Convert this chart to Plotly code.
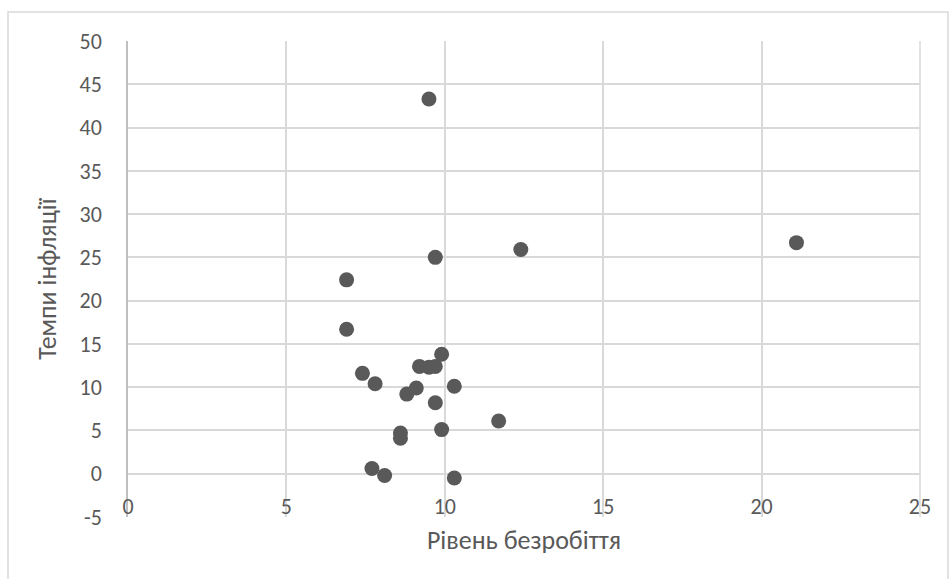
import plotly.graph_objects as go

# Unemployment rate (%) vs inflation rate (%)
unemployment = [9.5, 9.7, 12.4, 21.1, 6.9, 6.9, 9.9, 9.2, 9.5, 9.7, 7.4, 7.8,
                9.1, 8.8, 10.3, 9.7, 11.7, 9.9, 8.6, 8.6, 7.7, 8.1, 10.3]
inflation = [43.3, 25.0, 25.9, 26.7, 22.4, 16.7, 13.8, 12.4, 12.3, 12.4, 11.6, 10.4,
             9.9, 9.2, 10.1, 8.2, 6.1, 5.1, 4.7, 4.1, 0.6, -0.2, -0.5]

x_ticks = [0, 5, 10, 15, 20, 25]
y_ticks = [-5, 0, 5, 10, 15, 20, 25, 30, 35, 40, 45, 50]

x_title = "Рівень безробіття"
y_title = "Темпи інфляції"

FONT = "Calibri, Carlito, Lato, sans-serif"
TEXT = "#595959"
GRID = "#d9d9d9"

y_min, y_max = -5, 50
# x axis crosses the value axis at y = 0
cross = (0 - y_min) / (y_max - y_min)

fig = go.Figure(
    go.Scatter(
        x=unemployment,
        y=inflation,
        mode="markers",
        marker=dict(size=15, color="#595959", line=dict(width=0)),
        hoverinfo="x+y",
    )
)

fig.update_layout(
    width=949,
    height=579,
    margin=dict(l=128, r=29, t=41, b=62),
    paper_bgcolor="white",
    plot_bgcolor="white",
    showlegend=False,
    font=dict(family=FONT, color=TEXT, size=22),
    xaxis=dict(
        range=[0, 25],
        tickvals=x_ticks,
        ticktext=[str(v) for v in x_ticks],
        showgrid=True,
        gridcolor=GRID,
        gridwidth=1.5,
        zeroline=False,
        showline=False,
        anchor="free",
        position=cross,
        ticks="",
        ticklabelstandoff=17,
        tickfont=dict(size=22, color=TEXT),
        automargin=False,
        title=dict(text=x_title, font=dict(size=26, color=TEXT), standoff=12),
    ),
    yaxis=dict(
        range=[y_min, y_max],
        tickvals=y_ticks,
        ticktext=[str(v) for v in y_ticks],
        showgrid=True,
        gridcolor=GRID,
        gridwidth=1.5,
        zeroline=False,
        showline=True,
        linecolor="#bfbfbf",
        linewidth=1.5,
        ticks="",
        ticklabelstandoff=20,
        tickfont=dict(size=22, color=TEXT),
        automargin=False,
        title=dict(text=y_title, font=dict(size=26, color=TEXT), standoff=15),
    ),
    shapes=[
        # right border of the plot area
        dict(type="line", xref="paper", yref="paper", x0=1, x1=1, y0=0, y1=1,
             line=dict(color=GRID, width=1.5)),
        # chart area frame
        dict(type="rect", xref="paper", yref="paper",
             x0=(8 - 128) / 792, x1=(948 - 128) / 792,
             y0=(517 - 600) / 476, y1=(517 - 12) / 476,
             line=dict(color=GRID, width=1.5), layer="below"),
    ],
)

fig.write_html("out.html")
